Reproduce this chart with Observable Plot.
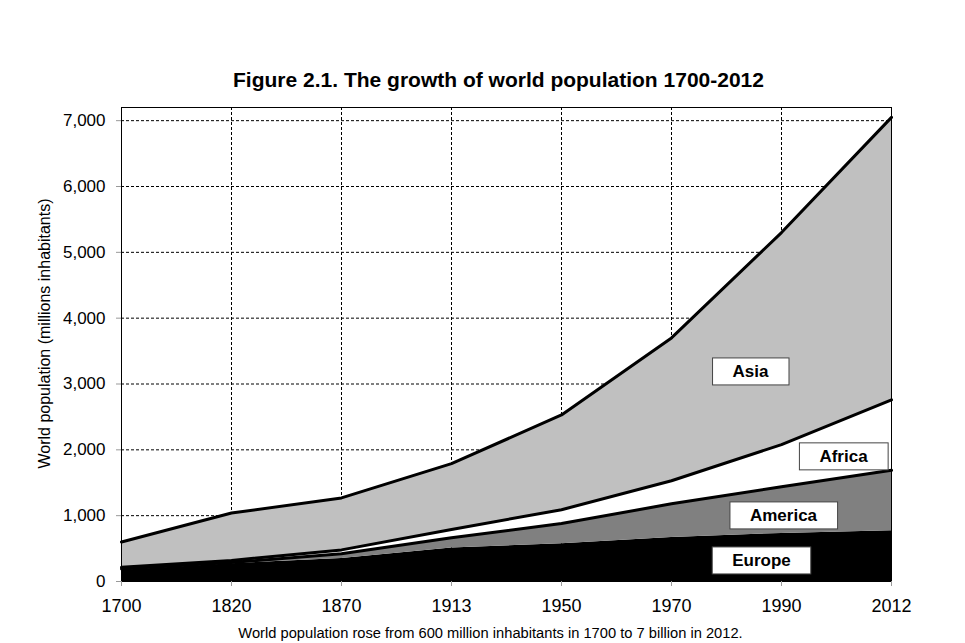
<!DOCTYPE html>
<html>
<head>
<meta charset="utf-8">
<script src="https://cdn.jsdelivr.net/npm/d3@7"></script>
<script src="https://cdn.jsdelivr.net/npm/@observablehq/plot@0.6"></script>
<style>
  html, body { margin: 0; padding: 0; background: #fff; }
  #chart { width: 965px; height: 643px; }
</style>
</head>
<body>
<div id="chart"></div>
<script>
// ---- data (millions of inhabitants) ----
const years   = ["1700", "1820", "1870", "1913", "1950", "1970", "1990", "2012"];
const europe  = [170, 270, 350, 510, 575, 670, 730, 770];
const america = [20, 20, 70, 155, 305, 510, 710, 920];
const africa  = [25, 30, 60, 125, 210, 350, 640, 1070];
const asia    = [385, 720, 790, 1000, 1440, 2170, 3220, 4290];
const regions = ["Europe", "America", "Africa", "Asia"];
const yTicks  = [0, 1000, 2000, 3000, 4000, 5000, 6000, 7000];
const titleText   = "Figure 2.1. The growth of world population 1700-2012";
const captionText = "World population rose from 600 million inhabitants in 1700 to 7 billion in 2012.";
const yLabelText  = "World population (millions inhabitants)";
// label anchors: region name, reference year, value
const labelNames  = ["Asia", "Africa", "America", "Europe"];
const labelYears  = ["1990", "1990", "1990", "1990"];
const labelValues = [3190, 1900, 1003, 319];

// ---- build stacked table ----
const series = {Europe: europe, America: america, Africa: africa, Asia: asia};
const rows = [];
const cum = years.map(() => 0);
for (const r of regions) {
  years.forEach((yr, i) => {
    const y1 = cum[i];
    const y2 = y1 + series[r][i];
    cum[i] = y2;
    rows.push({region: r, year: yr, y1, y2});
  });
}
const labels = labelNames.map((n, i) => ({name: n, year: labelYears[i], value: labelValues[i]}));
const labelDx = {Asia: -31, Africa: 62, America: 2, Europe: -20};

const FONT = "Liberation Sans, Arial, sans-serif";
const noText = () => "";

const chart = Plot.plot({
  width: 965,
  height: 643,
  marginLeft: 121,
  marginRight: 74,
  marginTop: 107,
  marginBottom: 62,
  style: {fontFamily: FONT, background: "#fff", color: "#000"},
  x: {type: "point", domain: years, padding: 0, label: null},
  y: {domain: [0, 7200], label: null},
  color: {domain: regions, range: ["#000000", "#808080", "#ffffff", "#c0c0c0"]},
  marks: [
    Plot.ruleY(yTicks.filter(d => d > 0), {stroke: "#000", strokeWidth: 1, strokeDasharray: "3,2"}),
    Plot.ruleX(years.slice(1, -1), {stroke: "#000", strokeWidth: 1, strokeDasharray: "3,2"}),
    Plot.areaY(rows, {x: "year", y1: "y1", y2: "y2", z: "region", fill: "region"}),
    Plot.lineY(rows.filter(d => d.region !== "Europe"), {x: "year", y: "y2", z: "region", stroke: "#000", strokeWidth: 3, strokeLinejoin: "miter"}),
    Plot.frame({stroke: "#000", strokeWidth: 1}),
    // tick marks (gray) and tick labels (black) as separate axis marks
    Plot.axisY({ticks: yTicks, tickSize: 5, tickFormat: noText, stroke: "#999", label: null}),
    Plot.axisY({ticks: yTicks, tickFormat: d3.format(","), tickSize: 0, tickPadding: 16, fontSize: 17, fill: "#000", label: null}),
    Plot.axisX({tickSize: 5, tickFormat: noText, stroke: "#999", label: null}),
    Plot.axisX({tickSize: 0, tickPadding: 18, fontSize: 18, fill: "#000", fontWeight: "normal", label: null}),
    Plot.text(labels, {x: "year", y: "value", text: "name", fontSize: 17, fontWeight: "bold", fill: "#000", className: "region-label"}),
    Plot.text([titleText], {frameAnchor: "top", lineAnchor: "middle", dy: -27, dx: -8, fontSize: 21, fontWeight: "bold", fill: "#000"}),
    Plot.text([captionText], {frameAnchor: "bottom", lineAnchor: "middle", dy: 52, dx: -16, fontSize: 14.7, fill: "#000"}),
    Plot.text([yLabelText], {frameAnchor: "left", dx: -77, dy: -11, rotate: -90, textAnchor: "middle", fontSize: 16, fill: "#000"})
  ]
});

document.getElementById("chart").appendChild(chart);

// shift labels horizontally and add white boxes behind them
const svgNS = "http://www.w3.org/2000/svg";
chart.querySelectorAll("g.region-label text").forEach(t => {
  const name = t.textContent;
  const shift = labelDx[name] || 0;
  const tr = t.getAttribute("transform") || "";
  t.setAttribute("transform", `translate(${shift},0) ` + tr);
  const bb = t.getBBox();
  const padX = 20, padY = 4;
  const rect = document.createElementNS(svgNS, "rect");
  rect.setAttribute("x", bb.x - padX);
  rect.setAttribute("y", bb.y - padY);
  rect.setAttribute("width", bb.width + 2 * padX);
  rect.setAttribute("height", bb.height + 2 * padY);
  rect.setAttribute("fill", "#fff");
  rect.setAttribute("stroke", "#444");
  rect.setAttribute("stroke-width", "1");
  rect.setAttribute("transform", t.getAttribute("transform"));
  t.parentNode.insertBefore(rect, t);
});
</script>
</body>
</html>
